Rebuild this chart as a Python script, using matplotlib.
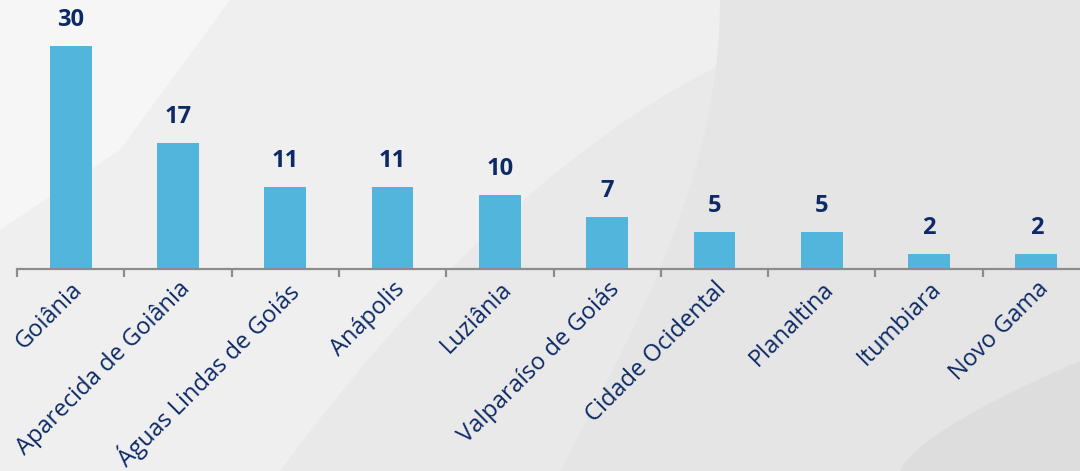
import matplotlib
matplotlib.use("Agg")
import matplotlib.pyplot as plt
from matplotlib.patches import Polygon
import numpy as np

categories = ["Goiânia", "Aparecida de Goiânia", "Águas Lindas de Goiás", "Anápolis",
              "Luziânia", "Valparaíso de Goiás", "Cidade Ocidental", "Planaltina",
              "Itumbiara", "Novo Gama"]
values = [30, 17, 11, 11, 10, 7, 5, 5, 2, 2]

bar_color = "#52B5DB"
text_color = "#0D2A66"
axis_color = "#8C8C8C"

fig = plt.figure(figsize=(10.8, 4.71), dpi=100)
fig.patch.set_facecolor("#EFEFEF")

# background decoration
bg = fig.add_axes([0, 0, 1, 1], zorder=0)
bg.set_xlim(0, 1080); bg.set_ylim(471, 0); bg.axis("off")
bg.add_patch(Polygon([(0, 0), (230, 0), (120, 150), (0, 230)], closed=True,
                     facecolor="#F6F6F6", edgecolor="none"))
t = np.linspace(0, 1, 50)
curve = [(280 + 700 * tt, 471 - 471 * (1 - (1 - tt) ** 2)) for tt in t]
bg.add_patch(Polygon(curve + [(1080, 0), (1080, 471)], closed=True,
                     facecolor="#E9E9E9", edgecolor="none"))
curve2 = [(560 + 160 * np.sin(np.pi / 2 * tt), 471 - 471 * tt) for tt in t]
bg.add_patch(Polygon(curve2 + [(1080, 0), (1080, 471)], closed=True,
                     facecolor="#E5E5E5", edgecolor="none"))
curve3 = [(900 + 180 * tt, 471 - 110 * tt ** 0.7) for tt in t]
bg.add_patch(Polygon(curve3 + [(1080, 471)], closed=True,
                     facecolor="#DDDDDD", edgecolor="none"))

ax = fig.add_axes([17 / 1080, 1 - 269 / 471, 1073 / 1080, 269 / 471], zorder=1)
ax.patch.set_alpha(0)
x = np.arange(len(categories))
ax.bar(x, values, width=0.39, color=bar_color)
ax.set_xlim(-0.5, len(categories) - 0.5)
ax.set_ylim(0, 30 * 269 / 223)

for xi, v in zip(x, values):
    ax.annotate(str(v), (xi, v), xytext=(0, 10), textcoords="offset points",
                ha="center", va="bottom", fontsize=17, fontweight="bold",
                color=text_color, family="Open Sans")

for s in ["top", "right", "left"]:
    ax.spines[s].set_visible(False)
ax.spines["bottom"].set_color(axis_color)
ax.spines["bottom"].set_linewidth(1.6)
ax.set_yticks([])
ax.set_xticks(x)
ax.set_xticklabels(categories, rotation=45, ha="right", rotation_mode="anchor",
                   fontsize=17, color=text_color, family="Open Sans")
ax.tick_params(axis="x", which="major", length=0, pad=6)
ax.set_xticks(np.arange(-0.5, len(categories)), minor=True)
ax.tick_params(axis="x", which="minor", length=6, width=1.6, color=axis_color)

fig.savefig("out.png", dpi=100, facecolor=fig.get_facecolor())
